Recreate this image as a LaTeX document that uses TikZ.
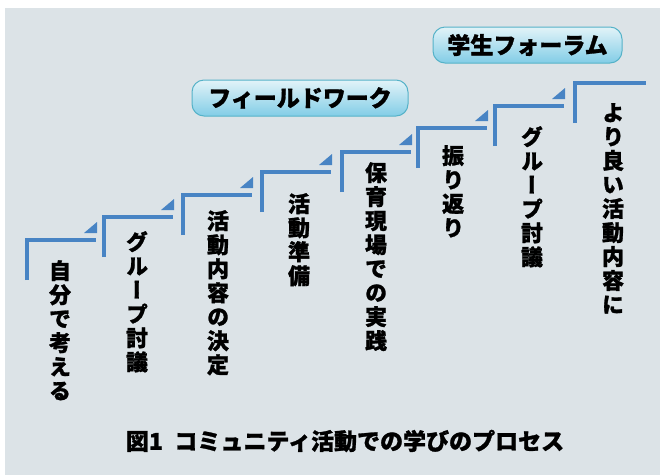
\documentclass[tikz,border=0pt]{standalone}
\usepackage{fontspec}
\setmainfont{Noto Sans CJK JP}[BoldFeatures={FakeBold=1.2}]
\newfontfamily\jpv{Noto Sans CJK JP}[RawFeature={+vert},BoldFeatures={FakeBold=1.2}]
\usetikzlibrary{shadings}
\definecolor{bgc}{RGB}{220,227,231}
\definecolor{stepc}{RGB}{72,132,196}
\definecolor{bubbord}{RGB}{85,178,200}
\definecolor{bubtop}{RGB}{226,243,248}
\definecolor{bubbot}{RGB}{130,205,230}
\tikzset{
  stepline/.style={draw=stepc, line width=4pt},
  stepwedge/.style={fill=stepc, draw=none},
  coltext/.style={anchor=north, align=center, inner sep=0pt, font=\jpv\bfseries\fontsize{22}{24}\selectfont},
  bubble/.style={draw=bubbord, line width=1pt, rounded corners=12pt, top color=bubtop, bottom color=bubbot, minimum height=36pt, inner sep=0pt, font=\bfseries\fontsize{23}{25}\selectfont},
  captiontext/.style={font=\bfseries\fontsize{23}{25}\selectfont, inner sep=0pt}
}
\begin{document}
\begin{tikzpicture}[x=1pt,y=-1pt]
\useasboundingbox (0,0) rectangle (660,475);
\fill[white] (0,0) rectangle (660,475);
\fill[bgc] (5,8) rectangle (660,475);
% steps
\foreach \i/\x/\y in {1/27/240,2/104/217,3/183/195,4/262/172,5/342/152,6/418/128,7/495/106}{
  \coordinate (b\i) at (\x,\y+40);
  \coordinate (c\i) at (\x,\y);
  \coordinate (e\i) at (\x+69,\y);
  \draw[stepline] (b\i) -- (c\i) -- (e\i);
  \fill[stepwedge] (\x+57,\y-7) -- (\x+70,\y-7) -- (\x+70,\y-18) -- cycle;
}
\coordinate (b8) at (575,123);
\coordinate (c8) at (575,83);
\coordinate (e8) at (646,83);
\draw[stepline] (b8) -- (c8) -- (e8);
% columns
\node[coltext] (t1) at (60,260) {自\\分\\で\\考\\え\\る};
\node[coltext] (t2) at (137,231) {グ\\ル\\ー\\プ\\討\\議};
\node[coltext] (t3) at (218,210) {活\\動\\内\\容\\の\\決\\定};
\node[coltext] (t4) at (299,193) {活\\動\\準\\備};
\node[coltext] (t5) at (376,162) {保\\育\\現\\場\\で\\の\\実\\践};
\node[coltext] (t6) at (453,145) {振\\り\\返\\り};
\node[coltext] (t7) at (532,126) {グ\\ル\\ー\\プ\\討\\議};
\node[coltext] (t8) at (613,103) {よ\\り\\良\\い\\活\\動\\内\\容\\に};
% bubbles
\node[bubble, minimum width=216pt] (fw) at (300,98) {フィールドワーク};
\node[bubble, minimum width=189pt] (sf) at (527.5,45) {学生フォーラム};
% caption
\node[captiontext] (cap) at (345,441) {図1\hspace{0.5em}コミュニティ活動での学びのプロセス};
\end{tikzpicture}
\end{document}
